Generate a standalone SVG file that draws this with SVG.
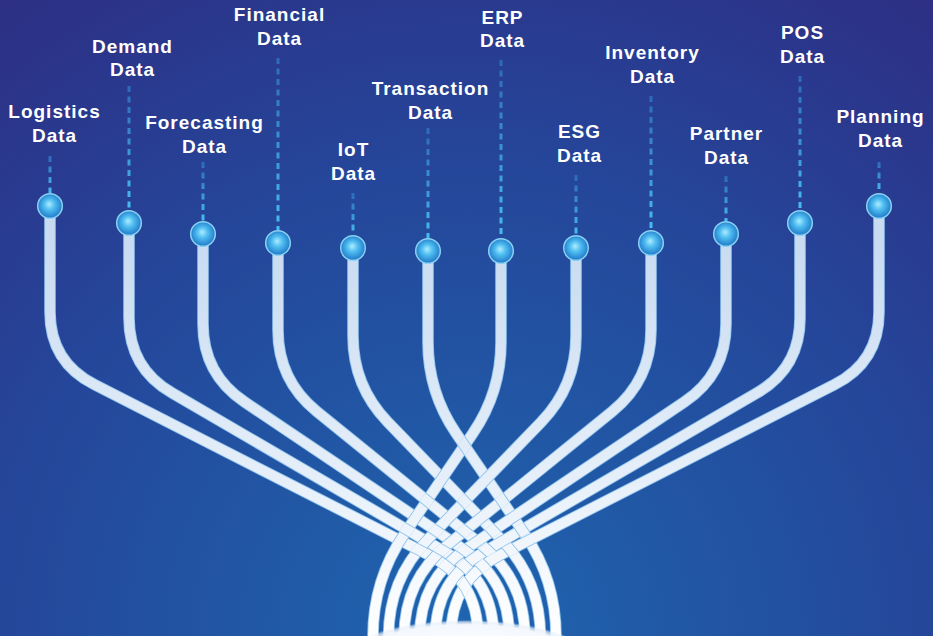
<svg xmlns="http://www.w3.org/2000/svg" width="933" height="636" viewBox="0 0 933 636">
<style>
  .ol{fill:none;stroke:#8fc3ec;stroke-width:11.6}
  .bd{fill:none;stroke:url(#strandFill);stroke-width:9.8}
  .lbl{font-family:"Liberation Sans",Arial,Helvetica,sans-serif;font-weight:700;font-size:19px;letter-spacing:1px;fill:#ffffff;text-anchor:middle}
  .dash{fill:none;stroke-width:3;stroke-dasharray:6 4.5}
  .ball{fill:url(#ballFill);stroke:#8ad2f4;stroke-width:1.5}
</style>
<defs>
  <radialGradient id="bg" gradientUnits="userSpaceOnUse" cx="466" cy="636" r="790">
    <stop offset="0" stop-color="#1f65b0"/>
    <stop offset="0.3" stop-color="#2156a4"/>
    <stop offset="0.6" stop-color="#25469a"/>
    <stop offset="0.85" stop-color="#2a378c"/>
    <stop offset="1" stop-color="#2d2f84"/>
  </radialGradient>
  <linearGradient id="strandFill" gradientUnits="userSpaceOnUse" x1="0" y1="240" x2="0" y2="636">
    <stop offset="0" stop-color="#c8dbf1"/>
    <stop offset="0.6" stop-color="#e6eff9"/>
    <stop offset="1" stop-color="#ffffff"/>
  </linearGradient>
  <radialGradient id="ballFill" cx="0.5" cy="0.48" r="0.55" fx="0.46" fy="0.42">
    <stop offset="0" stop-color="#aeecff"/>
    <stop offset="0.4" stop-color="#4fbdf0"/>
    <stop offset="1" stop-color="#1b72c5"/>
  </radialGradient>
  <radialGradient id="glow" cx="0.5" cy="0.5" r="0.5">
    <stop offset="0" stop-color="#ffffff" stop-opacity="1"/>
    <stop offset="0.88" stop-color="#f4f8fd" stop-opacity="1"/>
    <stop offset="0.95" stop-color="#e8f0fa" stop-opacity="0.7"/>
    <stop offset="1" stop-color="#e8f0fa" stop-opacity="0"/>
  </radialGradient>

  <!-- dashed leader gradient, re-anchored per leader -->
  <linearGradient id="dash" x1="0" y1="0" x2="0" y2="1">
    <stop offset="0" stop-color="#2d69ba"/>
    <stop offset="1" stop-color="#48bcf0"/>
  </linearGradient>
  <linearGradient id="d1" href="#dash" gradientUnits="userSpaceOnUse" x1="0" y1="156" x2="0" y2="193"/>
  <linearGradient id="d2" href="#dash" gradientUnits="userSpaceOnUse" x1="0" y1="86" x2="0" y2="210"/>
  <linearGradient id="d3" href="#dash" gradientUnits="userSpaceOnUse" x1="0" y1="162" x2="0" y2="221"/>
  <linearGradient id="d4" href="#dash" gradientUnits="userSpaceOnUse" x1="0" y1="58" x2="0" y2="230"/>
  <linearGradient id="d5" href="#dash" gradientUnits="userSpaceOnUse" x1="0" y1="193" x2="0" y2="235"/>
  <linearGradient id="d6" href="#dash" gradientUnits="userSpaceOnUse" x1="0" y1="128" x2="0" y2="238"/>
  <linearGradient id="d7" href="#dash" gradientUnits="userSpaceOnUse" x1="0" y1="60" x2="0" y2="238"/>
  <linearGradient id="d8" href="#dash" gradientUnits="userSpaceOnUse" x1="0" y1="175" x2="0" y2="235"/>
  <linearGradient id="d9" href="#dash" gradientUnits="userSpaceOnUse" x1="0" y1="96" x2="0" y2="230"/>
  <linearGradient id="d10" href="#dash" gradientUnits="userSpaceOnUse" x1="0" y1="176" x2="0" y2="221"/>
  <linearGradient id="d11" href="#dash" gradientUnits="userSpaceOnUse" x1="0" y1="76" x2="0" y2="210"/>
  <linearGradient id="d12" href="#dash" gradientUnits="userSpaceOnUse" x1="0" y1="162" x2="0" y2="193"/>

  <!-- left-hand strand shapes; the right-hand ones are their mirror images -->
  <path id="s1" d="M50 206 V312 Q50 362 94.6 384.7 L428.1 554.6 Q478 580 478 636 V645"/>
  <path id="s2" d="M129 223 V318 Q129 368 172.2 393.1 L445.2 551.9 Q493.6 580 493.6 636 V645"/>
  <path id="s3" d="M203 234 V324 Q203 374 244.5 401.9 L462.7 548.7 Q509.2 580 509.2 636 V645"/>
  <path id="s4" d="M278 243 V330 Q278 380 316.8 411.5 L481.3 544.7 Q524.8 580 524.8 636 V645"/>
  <path id="s5" d="M353 248 V336 Q353 386 387.7 422 L501.5 539.7 Q540.4 580 540.4 636 V645"/>
  <path id="s6" d="M428 251 V342 Q428 392 456.1 433.3 L524.5 533.7 Q556 580 556 636 V645"/>

  <!-- weave masks: areas of the odd / even right-hand strands -->
  <mask id="mOdd" maskUnits="userSpaceOnUse" x="0" y="0" width="933" height="636">
    <g transform="matrix(-1 0 0 1 929 0)" fill="none" stroke="#ffffff" stroke-width="11.6">
      <use href="#s1"/><use href="#s3"/><use href="#s5"/>
    </g>
  </mask>
  <mask id="mEven" maskUnits="userSpaceOnUse" x="0" y="0" width="933" height="636">
    <g transform="matrix(-1 0 0 1 929 0)" fill="none" stroke="#ffffff" stroke-width="11.6">
      <use href="#s2"/><use href="#s4"/><use href="#s6"/>
    </g>
  </mask>
</defs>

<rect width="933" height="636" fill="url(#bg)"/>

<g id="connectors">
  <!-- strands from the left-hand sources -->
  <g id="left-strands">
    <use href="#s1" class="ol"/><use href="#s1" class="bd"/>
    <use href="#s2" class="ol"/><use href="#s2" class="bd"/>
    <use href="#s3" class="ol"/><use href="#s3" class="bd"/>
    <use href="#s4" class="ol"/><use href="#s4" class="bd"/>
    <use href="#s5" class="ol"/><use href="#s5" class="bd"/>
    <use href="#s6" class="ol"/><use href="#s6" class="bd"/>
  </g>
  <!-- strands from the right-hand sources -->
  <g id="right-strands" transform="matrix(-1 0 0 1 929 0)">
    <use href="#s1" class="ol"/><use href="#s1" class="bd"/>
    <use href="#s2" class="ol"/><use href="#s2" class="bd"/>
    <use href="#s3" class="ol"/><use href="#s3" class="bd"/>
    <use href="#s4" class="ol"/><use href="#s4" class="bd"/>
    <use href="#s5" class="ol"/><use href="#s5" class="bd"/>
    <use href="#s6" class="ol"/><use href="#s6" class="bd"/>
  </g>
  <!-- over-crossings of the left strands (checkerboard weave) -->
  <g mask="url(#mOdd)">
    <use href="#s1" class="ol"/><use href="#s1" class="bd"/>
    <use href="#s3" class="ol"/><use href="#s3" class="bd"/>
    <use href="#s5" class="ol"/><use href="#s5" class="bd"/>
  </g>
  <g mask="url(#mEven)">
    <use href="#s2" class="ol"/><use href="#s2" class="bd"/>
    <use href="#s4" class="ol"/><use href="#s4" class="bd"/>
    <use href="#s6" class="ol"/><use href="#s6" class="bd"/>
  </g>
  <!-- soft light pool where the strands meet the base -->
  <ellipse cx="467" cy="659" rx="124" ry="39" fill="url(#glow)"/>
</g>

<g id="node-logistics">
  <line class="dash" x1="50" y1="156" x2="50" y2="193" stroke="url(#d1)"/>
  <circle class="ball" cx="50" cy="206" r="12.3"/>
  <text class="lbl" x="54.5" y="118">Logistics</text>
  <text class="lbl" x="54.5" y="142">Data</text>
</g>
<g id="node-demand">
  <line class="dash" x1="129" y1="86" x2="129" y2="210" stroke="url(#d2)"/>
  <circle class="ball" cx="129" cy="223" r="12.3"/>
  <text class="lbl" x="132.5" y="53">Demand</text>
  <text class="lbl" x="132.5" y="76">Data</text>
</g>
<g id="node-forecasting">
  <line class="dash" x1="203" y1="162" x2="203" y2="221" stroke="url(#d3)"/>
  <circle class="ball" cx="203" cy="234" r="12.3"/>
  <text class="lbl" x="204.5" y="129">Forecasting</text>
  <text class="lbl" x="204.5" y="153">Data</text>
</g>
<g id="node-financial">
  <line class="dash" x1="278" y1="58" x2="278" y2="230" stroke="url(#d4)"/>
  <circle class="ball" cx="278" cy="243" r="12.3"/>
  <text class="lbl" x="279.5" y="21">Financial</text>
  <text class="lbl" x="279.5" y="45">Data</text>
</g>
<g id="node-iot">
  <line class="dash" x1="353" y1="193" x2="353" y2="235" stroke="url(#d5)"/>
  <circle class="ball" cx="353" cy="248" r="12.3"/>
  <text class="lbl" x="353.5" y="156">IoT</text>
  <text class="lbl" x="353.5" y="180">Data</text>
</g>
<g id="node-transaction">
  <line class="dash" x1="428" y1="128" x2="428" y2="238" stroke="url(#d6)"/>
  <circle class="ball" cx="428" cy="251" r="12.3"/>
  <text class="lbl" x="430.5" y="95">Transaction</text>
  <text class="lbl" x="430.5" y="119">Data</text>
</g>
<g id="node-erp">
  <line class="dash" x1="501" y1="60" x2="501" y2="238" stroke="url(#d7)"/>
  <circle class="ball" cx="501" cy="251" r="12.3"/>
  <text class="lbl" x="502.5" y="24">ERP</text>
  <text class="lbl" x="502.5" y="47">Data</text>
</g>
<g id="node-esg">
  <line class="dash" x1="576" y1="175" x2="576" y2="235" stroke="url(#d8)"/>
  <circle class="ball" cx="576" cy="248" r="12.3"/>
  <text class="lbl" x="579.5" y="138">ESG</text>
  <text class="lbl" x="579.5" y="162">Data</text>
</g>
<g id="node-inventory">
  <line class="dash" x1="651" y1="96" x2="651" y2="230" stroke="url(#d9)"/>
  <circle class="ball" cx="651" cy="243" r="12.3"/>
  <text class="lbl" x="652.5" y="59">Inventory</text>
  <text class="lbl" x="652.5" y="83">Data</text>
</g>
<g id="node-partner">
  <line class="dash" x1="726" y1="176" x2="726" y2="221" stroke="url(#d10)"/>
  <circle class="ball" cx="726" cy="234" r="12.3"/>
  <text class="lbl" x="726.5" y="140">Partner</text>
  <text class="lbl" x="726.5" y="164">Data</text>
</g>
<g id="node-pos">
  <line class="dash" x1="800" y1="76" x2="800" y2="210" stroke="url(#d11)"/>
  <circle class="ball" cx="800" cy="223" r="12.3"/>
  <text class="lbl" x="802.5" y="39">POS</text>
  <text class="lbl" x="802.5" y="63">Data</text>
</g>
<g id="node-planning">
  <line class="dash" x1="879" y1="162" x2="879" y2="193" stroke="url(#d12)"/>
  <circle class="ball" cx="879" cy="206" r="12.3"/>
  <text class="lbl" x="880.5" y="123">Planning</text>
  <text class="lbl" x="880.5" y="147">Data</text>
</g>
</svg>
